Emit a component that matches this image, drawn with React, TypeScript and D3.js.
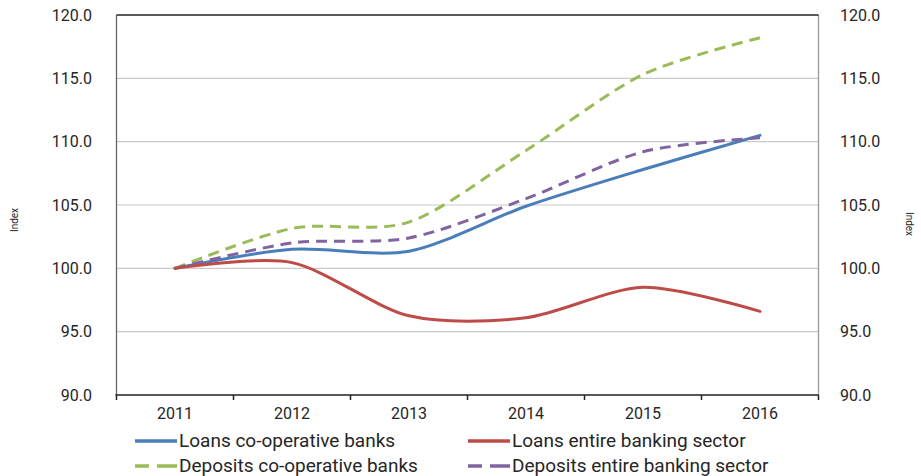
import React from "react";
import * as d3 from "d3";

const years = ["2011", "2012", "2013", "2014", "2015", "2016"];
const loansCoop = [100, 101.5, 101.35, 104.9, 107.8, 110.5];
const loansSector = [100, 100.45, 96.25, 96.1, 98.5, 96.6];
const depositsCoop = [100, 103.15, 103.65, 109.3, 115.3, 118.2];
const depositsSector = [100, 102.0, 102.4, 105.5, 109.2, 110.3];
const yTicks = [90, 95, 100, 105, 110, 115, 120];

const series = [
  { name: "Loans co-operative banks", values: loansCoop, color: "#4a7ebb", dash: null },
  { name: "Loans entire banking sector", values: loansSector, color: "#be4b48", dash: null },
  { name: "Deposits co-operative banks", values: depositsCoop, color: "#9bbb59", dash: "11,7" },
  { name: "Deposits entire banking sector", values: depositsSector, color: "#8064a2", dash: "11,7" },
];

const W = 921, H = 476;
const L = 116.5, R = 818.5, T = 15, B = 395;

export default function App() {
  const x = d3.scaleBand().domain(years).range([L, R]).padding(0);
  const y = d3.scaleLinear().domain([90, 120]).range([B, T]);
  const cx = (yr: string) => (x(yr) as number) + x.bandwidth() / 2;
  const line = d3
    .line<number>()
    .x((_, i) => cx(years[i]))
    .y((v) => y(v))
    .curve(d3.curveCardinal.tension(0.15));
  const font = "Roboto, 'Liberation Sans', Arial, sans-serif";
  const txt = "#262626";
  const boundaries = years.map((yr) => x(yr) as number).concat([R]);
  const legendPos = [
    { lx: 135, ty: 447 },
    { lx: 468, ty: 447 },
    { lx: 135, ty: 472 },
    { lx: 468, ty: 472 },
  ];
  return (
    <svg
      width={W}
      height={H}
      style={{ position: "absolute", left: 0, top: 0, background: "#fff" }}
      fontFamily={font}
    >
      {yTicks.map((t) => (
        <g key={t}>
          {t > 90 && t < 120 && (
            <line x1={L} x2={R} y1={y(t)} y2={y(t)} stroke="#c9c9c9" strokeWidth={1.2} />
          )}
          <text x={92} y={y(t)} dy="0.36em" textAnchor="end" fontSize={16} fill={txt}>
            {t.toFixed(1)}
          </text>
          <text x={840} y={y(t)} dy="0.36em" textAnchor="start" fontSize={16} fill={txt}>
            {t.toFixed(1)}
          </text>
        </g>
      ))}
      <line x1={L} x2={L} y1={T} y2={B} stroke="#666" strokeWidth={1.3} />
      <line x1={R} x2={R} y1={T} y2={B} stroke="#999" strokeWidth={1.3} />
      <line x1={L} x2={R} y1={T} y2={T} stroke="#222" strokeWidth={1.5} />
      <line x1={L - 1} x2={R} y1={B} y2={B} stroke="#222" strokeWidth={1.5} />
      {boundaries.map((bx, i) => (
        <line key={i} x1={bx} x2={bx} y1={B} y2={B + 5} stroke="#222" strokeWidth={1.5} />
      ))}
      {years.map((yr) => (
        <text key={yr} x={cx(yr)} y={419} textAnchor="middle" fontSize={16} fill={txt}>
          {yr}
        </text>
      ))}
      <text transform="translate(18,220) rotate(-90)" textAnchor="middle" fontSize={10} fill={txt}>
        Index
      </text>
      <text transform="translate(906,224) rotate(90)" textAnchor="middle" fontSize={10} fill={txt}>
        Index
      </text>
      {[0, 2, 3, 1].map((k) => {
        const s = series[k];
        return (
          <path
            key={s.name}
            d={line(s.values) || ""}
            fill="none"
            stroke={s.color}
            strokeWidth={3}
            strokeDasharray={s.dash || undefined}
            strokeLinecap={s.dash ? "butt" : "round"}
          />
        );
      })}
      {series.map((s, i) => {
        const p = legendPos[i];
        return (
          <g key={s.name}>
            <line
              x1={p.lx}
              x2={p.lx + 42}
              y1={p.ty - 6}
              y2={p.ty - 6}
              stroke={s.color}
              strokeWidth={3.5}
              strokeDasharray={s.dash ? "14,8,20" : undefined}
            />
            <text x={p.lx + 44} y={p.ty} fontSize={19} fill={txt}>
              {s.name}
            </text>
          </g>
        );
      })}
    </svg>
  );
}
